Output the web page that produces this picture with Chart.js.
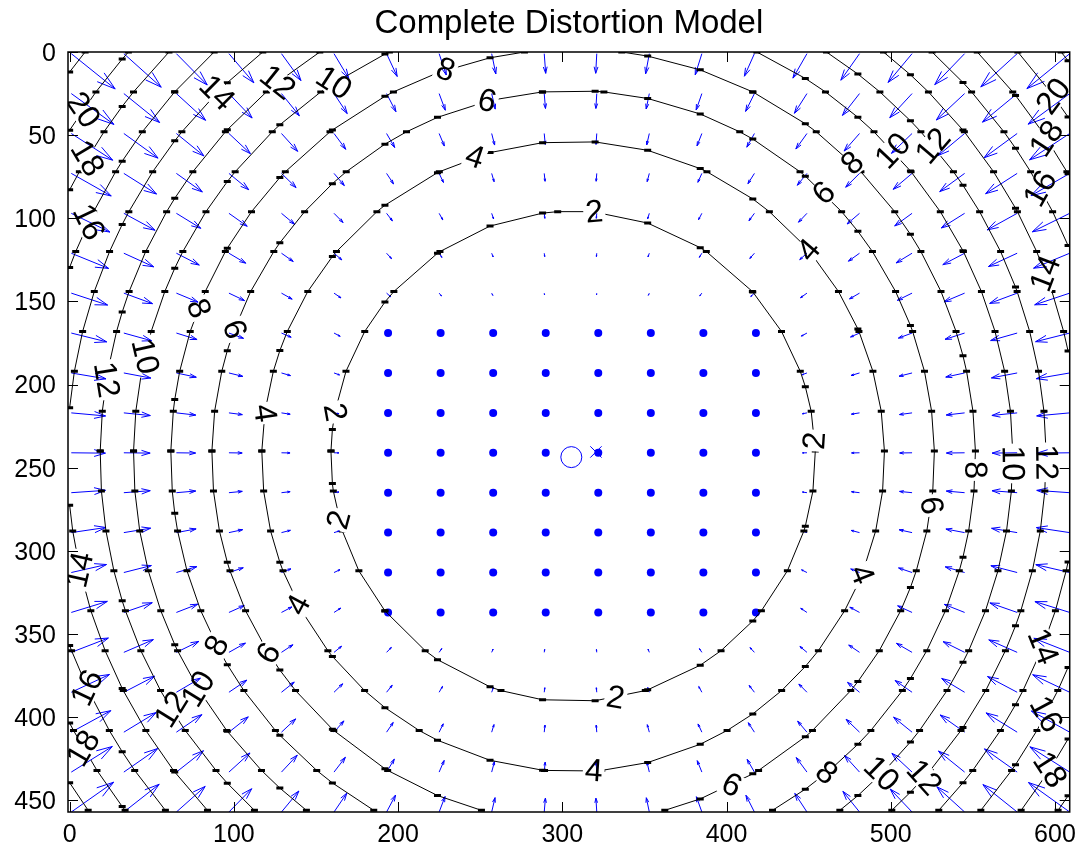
<!DOCTYPE html>
<html>
<head>
<meta charset="utf-8">
<title>Complete Distortion Model</title>
<script src="https://cdn.jsdelivr.net/npm/chart.js@4.4.1/dist/chart.umd.min.js"></script>
<style>
  html, body { margin: 0; padding: 0; background: #fff; }
  #wrap { width: 1084px; height: 853px; }
</style>
</head>
<body>
<div id="wrap"><canvas id="distortionChart" width="1084" height="853"></canvas></div>
<script>
/* =============================================================================
   Complete Distortion Model - quiver field + distortion contours
   ============================================================================= */

// Quiver grid (image pixels, nx/20 and ny/20 steps)
const gridX = [0, 32, 64, 96, 128, 160, 192, 224, 256, 288, 320, 352, 384, 416, 448, 480, 512, 544, 576, 608];
const gridY = [0, 24, 48, 72, 96, 120, 144, 168, 192, 216, 240, 264, 288, 312, 336, 360, 384, 408, 432, 456];

// Contour levels (pixels of distortion) and radius of each contour around the centre
const levels = [2, 4, 6, 8, 10, 12, 14, 16, 18, 20, 22];
const levelRadius = [147.5, 189.6, 220, 245, 267.7, 288, 308, 327, 346, 364, 384];

// Inside the first contour (estimated from the small arrows)
const innerRadius = [0, 60, 100];
const innerDistortion = [0, 0.2, 0.7];

const distCenter = [306.6, 243.2];     // centre of the contours
const principalPoint = [305.5, 243.6]; // 'o'
const imageCenter = [320.5, 240.5];    // 'x'

// Contour labels: level and angle (deg, image coords) around the centre
const labelLevels = [20, 18, 16, 14, 12, 10, 8, 6, 4, 2,
  8, 10, 12, 6, 4, 20, 18, 16, 14,
  2, 8, 10, 12, 6, 4,
  14, 16, 18, 12, 10, 8, 6, 4, 2,
  2, 2, 4, 6, 8, 10, 12,
  14, 16, 18, 8, 6, 4, 10, 12];
const labelAngles = [-145.1, -148.8, -154.5, -134.8, -128.7, -123, -108.5, -103.8, -108.4, -85,
  -46, -43.3, -40.4, -46, -40.8, -36.5, -33.5, -29.5, -20.9,
  -3.7, 1.9, 0.9, 0.7, 7.7, 22,
  21.8, 28.3, 33, 42.1, 45.5, 51, 64, 86.2, 79.9,
  -169.6, 165, -172.1, -159.7, -158.7, -167, -170.8,
  167.2, 154.8, 149.5, 152.3, 147.4, 151.9, 148.5, 148.1];

const xTicks = [0, 100, 200, 300, 400, 500, 600];
const yTicks = [0, 50, 100, 150, 200, 250, 300, 350, 400, 450];

const FONT = '"Liberation Sans", Arial, Helvetica, sans-serif';
const BLUE = '#0000ff';
const ARROW_SCALE = 1.5;

/**
 * Distortion magnitude at a radius
 */
const profR = innerRadius.concat(levelRadius);
const profD = innerDistortion.concat(levels);
function distortionAt(r) {
  for (let i = 1; i < profR.length; i++) {
    if (r <= profR[i]) {
      const t = (r - profR[i - 1]) / (profR[i] - profR[i - 1]);
      return profD[i - 1] + t * (profD[i] - profD[i - 1]);
    }
  }
  const n = profR.length - 1;
  return profD[n] + (r - profR[n]) * (profD[n] - profD[n - 1]) / (profR[n] - profR[n - 1]);
}

/**
 * Contour polyline: crossings of the circle with the grid lines, split where it leaves the grid
 */
function contourPoints(r) {
  const [cx, cy] = distCenter;
  const x0 = gridX[0], x1 = gridX[gridX.length - 1];
  const y0 = gridY[0], y1 = gridY[gridY.length - 1];
  const inside = (p) => p.x >= x0 - 1e-6 && p.x <= x1 + 1e-6 && p.y >= y0 - 1e-6 && p.y <= y1 + 1e-6;

  const pts = [];
  gridX.forEach(x => {
    const dx = x - cx;
    if (Math.abs(dx) <= r) {
      const h = Math.sqrt(r * r - dx * dx);
      pts.push({ x, y: cy - h }, { x, y: cy + h });
    }
  });
  gridY.forEach(y => {
    const dy = y - cy;
    if (Math.abs(dy) <= r) {
      const h = Math.sqrt(r * r - dy * dy);
      pts.push({ x: cx - h, y }, { x: cx + h, y });
    }
  });

  const v = pts.filter(inside).map(p => ({ x: p.x, y: p.y, a: Math.atan2(p.y - cy, p.x - cx) }));
  v.sort((a, b) => a.a - b.a);

  const out = [];
  for (let i = 0; i < v.length; i++) {
    out.push({ x: v[i].x, y: v[i].y });
    const last = i === v.length - 1;
    const n = v[last ? 0 : i + 1];
    const am = last ? (v[i].a + n.a + 2 * Math.PI) / 2 : (v[i].a + n.a) / 2;
    const mid = { x: cx + r * Math.cos(am), y: cy + r * Math.sin(am) };
    if (inside(mid)) {
      if (last) out.push({ x: n.x, y: n.y });
    } else if (!last) {
      out.push({ x: (v[i].x + n.x) / 2, y: null });
    }
  }
  return out;
}

/**
 * Label geometry in pixels (MATLAB clabel under axis ij mirrors the rotation)
 */
function labelGeometry(chart) {
  const { x, y } = chart.scales;
  const [cx, cy] = distCenter;
  return labelLevels.map((lvl, i) => {
    const r = levelRadius[levels.indexOf(lvl)];
    const th = labelAngles[i] * Math.PI / 180;
    let phi = Math.atan2(Math.cos(th), -Math.sin(th));
    if (phi > Math.PI / 2) phi -= Math.PI;
    if (phi <= -Math.PI / 2) phi += Math.PI;
    return {
      text: String(lvl),
      px: x.getPixelForValue(cx + r * Math.cos(th)),
      py: y.getPixelForValue(cy + r * Math.sin(th)),
      rot: -phi
    };
  });
}

const distortionPlugin = {
  id: 'distortion',
  beforeDatasetsDraw(chart) {
    const { ctx, chartArea, scales: { x, y } } = chart;

    // quiver field
    ctx.save();
    ctx.beginPath();
    ctx.rect(chartArea.left, chartArea.top, chartArea.width, chartArea.height);
    ctx.clip();
    ctx.strokeStyle = BLUE;
    ctx.fillStyle = BLUE;
    ctx.lineWidth = 1;
    const alpha = 0.33, beta = 0.3;
    gridY.forEach(gy => {
      gridX.forEach(gx => {
        const dx = distCenter[0] - gx;
        const dy = distCenter[1] - gy;
        const r = Math.hypot(dx, dy);
        const px0 = x.getPixelForValue(gx + 1);
        const py0 = y.getPixelForValue(gy + 1);
        // near-zero vectors render as solid dots
        if (Math.abs(dx) < 125 && Math.abs(dy) < 95) {
          ctx.beginPath();
          ctx.arc(px0 + 1.5, py0, 4, 0, Math.PI * 2);
          ctx.fill();
          return;
        }
        const d = distortionAt(r) * ARROW_SCALE;
        const u = dx / r * d, v = dy / r * d;
        const tx = gx + 1 + u, ty = gy + 1 + v;
        const pt = (a, b) => [x.getPixelForValue(a), y.getPixelForValue(b)];
        const tip = pt(tx, ty);
        const h1 = pt(tx - alpha * (u + beta * v), ty - alpha * (v - beta * u));
        const h2 = pt(tx - alpha * (u - beta * v), ty - alpha * (v + beta * u));
        ctx.beginPath();
        ctx.moveTo(px0, py0);
        ctx.lineTo(tip[0], tip[1]);
        ctx.moveTo(h1[0], h1[1]);
        ctx.lineTo(tip[0], tip[1]);
        ctx.lineTo(h2[0], h2[1]);
        ctx.stroke();
      });
    });
    ctx.restore();

    // break contour lines under their labels
    ctx.save();
    ctx.font = `32px ${FONT}`;
    ctx.beginPath();
    ctx.rect(chartArea.left - 20, chartArea.top - 20, chartArea.width + 40, chartArea.height + 40);
    labelGeometry(chart).forEach(l => {
      const w = ctx.measureText(l.text).width / 2 + 2;
      const h = 12;
      const c = Math.cos(l.rot), s = Math.sin(l.rot);
      const corners = [[-w, -h], [w, -h], [w, h], [-w, h]].map(([a, b]) => [l.px + a * c - b * s, l.py + a * s + b * c]);
      ctx.moveTo(corners[0][0], corners[0][1]);
      corners.slice(1).forEach(p => ctx.lineTo(p[0], p[1]));
      ctx.closePath();
    });
    ctx.clip('evenodd');
  },
  afterDatasetsDraw(chart) {
    const { ctx, chartArea } = chart;
    ctx.restore();

    // contour labels
    ctx.save();
    ctx.beginPath();
    ctx.rect(chartArea.left, chartArea.top, chartArea.width, chartArea.height);
    ctx.clip();
    ctx.font = `32px ${FONT}`;
    ctx.fillStyle = '#000';
    ctx.textAlign = 'center';
    ctx.textBaseline = 'middle';
    labelGeometry(chart).forEach(l => {
      ctx.save();
      ctx.translate(l.px, l.py);
      ctx.rotate(l.rot);
      ctx.fillText(l.text, 0, 1);
      ctx.restore();
    });
    ctx.restore();
  },
  afterDraw(chart) {
    const { ctx, chartArea: a, scales: { x, y } } = chart;
    ctx.save();
    ctx.strokeStyle = '#000';
    ctx.lineWidth = 1.5;
    ctx.strokeRect(a.left, a.top, a.right - a.left, a.bottom - a.top);
    ctx.lineWidth = 1;
    const tl = 10;
    ctx.beginPath();
    xTicks.forEach(v => {
      const p = Math.round(x.getPixelForValue(v)) + 0.5;
      ctx.moveTo(p, a.bottom); ctx.lineTo(p, a.bottom - tl);
      ctx.moveTo(p, a.top); ctx.lineTo(p, a.top + tl);
    });
    yTicks.forEach(v => {
      const p = Math.round(y.getPixelForValue(v)) + 0.5;
      ctx.moveTo(a.left, p); ctx.lineTo(a.left + tl, p);
      ctx.moveTo(a.right, p); ctx.lineTo(a.right - tl, p);
    });
    ctx.stroke();
    ctx.restore();
  }
};

const contourDatasets = levels.map((lvl, i) => ({
  label: `${lvl}`,
  data: contourPoints(levelRadius[i]),
  showLine: true,
  spanGaps: false,
  borderColor: '#000',
  borderWidth: 1,
  pointStyle: 'line',
  pointRadius: 3.5,
  pointBorderWidth: 3,
  pointBorderColor: '#000',
  pointBackgroundColor: '#000'
}));

const ctx = document.getElementById('distortionChart').getContext('2d');
window.distortionChart = new Chart(ctx, {
  type: 'scatter',
  data: {
    datasets: [
      ...contourDatasets,
      {
        label: 'principal point',
        data: [{ x: principalPoint[0], y: principalPoint[1] }],
        pointStyle: 'circle',
        pointRadius: 10.5,
        pointBorderWidth: 1,
        pointBorderColor: BLUE,
        pointBackgroundColor: 'rgba(0,0,0,0)'
      },
      {
        label: 'image centre',
        data: [{ x: imageCenter[0], y: imageCenter[1] }],
        pointStyle: 'crossRot',
        pointRadius: 8,
        pointBorderWidth: 1,
        pointBorderColor: BLUE
      }
    ]
  },
  options: {
    responsive: false,
    animation: false,
    events: [],
    layout: { padding: { top: 0, right: 7, bottom: 0, left: 0 } },
    plugins: {
      legend: { display: false },
      tooltip: { enabled: false },
      title: {
        display: true,
        fullSize: false,
        text: 'Complete Distortion Model',
        color: '#000',
        font: { family: FONT, size: 33, weight: 'normal', lineHeight: 1.2 },
        padding: { top: 4.4, bottom: 8 }
      }
    },
    scales: {
      x: {
        type: 'linear',
        min: -1,
        max: 609,
        grid: { display: false, drawTicks: false },
        border: { display: false },
        ticks: { color: '#000', font: { family: FONT, size: 25 }, padding: 8, maxRotation: 0 },
        afterBuildTicks: (scale) => { scale.ticks = xTicks.map(v => ({ value: v })); },
        afterFit: (scale) => { scale.height = 41; }
      },
      y: {
        type: 'linear',
        reverse: true,
        min: 0,
        max: 457,
        grid: { display: false, drawTicks: false },
        border: { display: false },
        ticks: { color: '#000', font: { family: FONT, size: 25 }, padding: 12, labelOffset: 2 },
        afterBuildTicks: (scale) => { scale.ticks = yTicks.map(v => ({ value: v })); },
        afterFit: (scale) => { scale.width = 68; }
      }
    }
  },
  plugins: [distortionPlugin]
});
</script>
</body>
</html>
